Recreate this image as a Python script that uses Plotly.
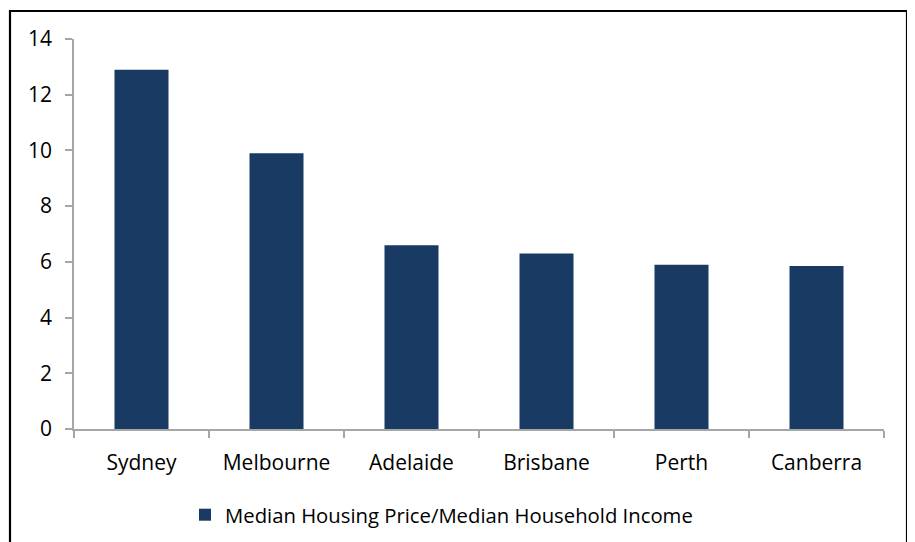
import plotly.graph_objects as go

cities = ["Sydney", "Melbourne", "Adelaide", "Brisbane", "Perth", "Canberra"]
ratio = [12.9, 9.9, 6.6, 6.3, 5.9, 5.85]
series_name = "Median Housing Price/Median Household Income"
y_ticks = [0, 2, 4, 6, 8, 10, 12, 14]

BAR = "#183A63"
AXIS = "#A6A6A6"
FONT = "Open Sans"

# page body has an 8px margin; layout below is expressed in window pixels
OFF = 8
W, H = 915 - OFF, 542 - OFF
PL, PR, PT, PB = 74, 884, 39, 429  # plot area in window pixels
L, R, T, B = PL - OFF, (W + OFF) - PR, PT - OFF, (H + OFF) - PB
pw, ph = PR - PL, PB - PT


def px_x(x):
    return (x - PL) / pw


def px_y(y):
    return (PB - y) / ph


fig = go.Figure()
fig.add_trace(go.Bar(
    x=cities, y=ratio, name=series_name,
    marker=dict(color=BAR, line=dict(width=0)),
    width=0.4, showlegend=True,
))

fig.update_layout(
    width=W, height=H,
    margin=dict(l=L, r=R, t=T, b=B, pad=0, autoexpand=False),
    paper_bgcolor="white", plot_bgcolor="white",
    font=dict(family=FONT, size=21, color="black"),
    showlegend=True,
    legend=dict(orientation="h", x=px_x(185), xanchor="left",
                y=px_y(515), yanchor="middle",
                font=dict(family=FONT, size=20.3, color="black"),
                bgcolor="rgba(0,0,0,0)"),
    bargap=0.6,
    xaxis=dict(showline=True, linecolor=AXIS, linewidth=1.5,
               ticks="outside", ticklen=7, tickcolor=AXIS, tickwidth=1.5,
               tickson="boundaries", showgrid=False, zeroline=False,
               ticklabelstandoff=14,
               tickfont=dict(family=FONT, size=21), fixedrange=True),
    yaxis=dict(range=[0, 14], tickvals=y_ticks, showline=True, linecolor=AXIS,
               linewidth=1.5, ticks="outside", ticklen=7, tickcolor=AXIS,
               tickwidth=1.5, showgrid=False, zeroline=False,
               ticklabelstandoff=9,
               tickfont=dict(family=FONT, size=21)),
    shapes=[dict(type="rect", xref="paper", yref="paper",
                 x0=px_x(10), x1=px_x(907), y0=px_y(11), y1=px_y(560),
                 line=dict(color="black", width=2.2), fillcolor="rgba(0,0,0,0)",
                 layer="above")],
)

fig.write_html("out.html")
